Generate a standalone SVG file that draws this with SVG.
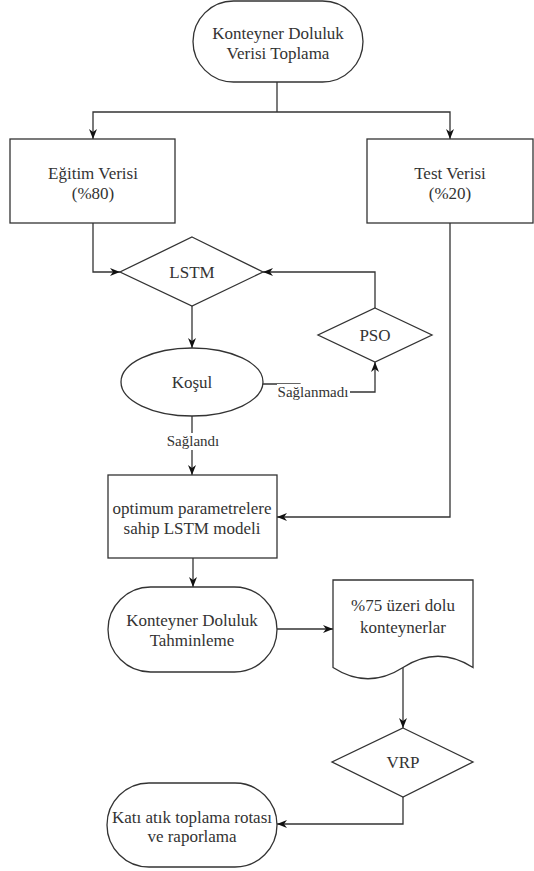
<svg xmlns="http://www.w3.org/2000/svg" width="534" height="871" viewBox="0 0 534 871" font-family="Liberation Serif, serif">
<style>
.s{fill:#fff;stroke:#333;stroke-width:1.3}
.e{fill:none;stroke:#333;stroke-width:1.3;marker-end:url(#a)}
.l{fill:none;stroke:#333;stroke-width:1.3}
.t{font-size:17px;fill:#333;text-anchor:middle;dominant-baseline:central}
.lb{font-size:15px}
</style>
<defs>
<marker id="a" viewBox="0 0 10 10" refX="10" refY="5" markerWidth="10" markerHeight="10" markerUnits="userSpaceOnUse" orient="auto">
<path d="M0,1 L10,5 L0,9 L3,5 Z" fill="#111"/>
</marker>
</defs>
<rect width="534" height="871" fill="#fff"/>
<g id="connectors">
<path class="l" d="M277,82 V112"/>
<path class="e" d="M277,112 H93 V139"/>
<path class="e" d="M277,112 H450 V139"/>
<path class="e" d="M93,223 V272 H120"/>
<path class="e" d="M375,308 V272 H263"/>
<path class="e" d="M192,306 V348"/>
<path class="e" d="M263,384 H300 V392 H375 V362"/>
<rect x="277" y="384" width="73" height="17" fill="#fff"/>
<text class="t lb" x="313" y="392">Sağlanmadı</text>
<path class="e" d="M192,416 V475"/>
<rect x="164" y="433" width="56" height="17" fill="#fff"/>
<text class="t lb" x="193" y="441">Sağlandı</text>
<path class="e" d="M450,223 V517 H277"/>
<path class="e" d="M193,558 V587"/>
<path class="e" d="M277,629 H333"/>
<path class="e" d="M403,667 V728"/>
<path class="e" d="M403,797 V824 H277"/>
</g>
<g id="n1"><rect class="s" x="193" y="1" width="170" height="81" rx="40.5"/><text class="t" x="278" y="33">Konteyner Doluluk</text><text class="t" x="278" y="53">Verisi Toplama</text></g>
<g id="n2"><rect class="s" x="10" y="139" width="165" height="84"/><text class="t" x="93" y="173">Eğitim Verisi</text><text class="t" x="93" y="193">(%80)</text></g>
<g id="n3"><rect class="s" x="367" y="139" width="166" height="84"/><text class="t" x="450" y="173">Test Verisi</text><text class="t" x="450" y="193">(%20)</text></g>
<g id="n4"><path class="s" d="M192,237 L263,272 L192,306 L120,272 Z"/><text class="t" x="192" y="272">LSTM</text></g>
<g id="n5"><path class="s" d="M375,308 L432,335 L375,362 L318,335 Z"/><text class="t" x="375" y="335">PSO</text></g>
<g id="n6"><ellipse class="s" cx="192" cy="382" rx="71" ry="34"/><text class="t" x="192" y="382">Koşul</text></g>
<g id="n7"><rect class="s" x="108" y="475" width="169" height="83"/><text class="t" x="192" y="508">optimum parametrelere</text><text class="t" x="192" y="528">sahip LSTM modeli</text></g>
<g id="n8"><rect class="s" x="108" y="587" width="169" height="85" rx="42.5"/><text class="t" x="192" y="620">Konteyner Doluluk</text><text class="t" x="192" y="640">Tahminleme</text></g>
<g id="n9"><path class="s" d="M333,580 H473 V667.5 Q438,645 403,667.5 Q368,690 333,667.5 Z"/><text class="t" x="403" y="605">%75 üzeri dolu</text><text class="t" x="403" y="627">konteynerlar</text></g>
<g id="n10"><path class="s" d="M403,728 L473,762 L403,797 L332,762 Z"/><text class="t" x="403" y="762">VRP</text></g>
<g id="n11"><rect class="s" x="107" y="783" width="170" height="84" rx="42"/><text class="t" x="192" y="817">Katı atık toplama rotası</text><text class="t" x="192" y="836">ve raporlama</text></g>
</svg>
